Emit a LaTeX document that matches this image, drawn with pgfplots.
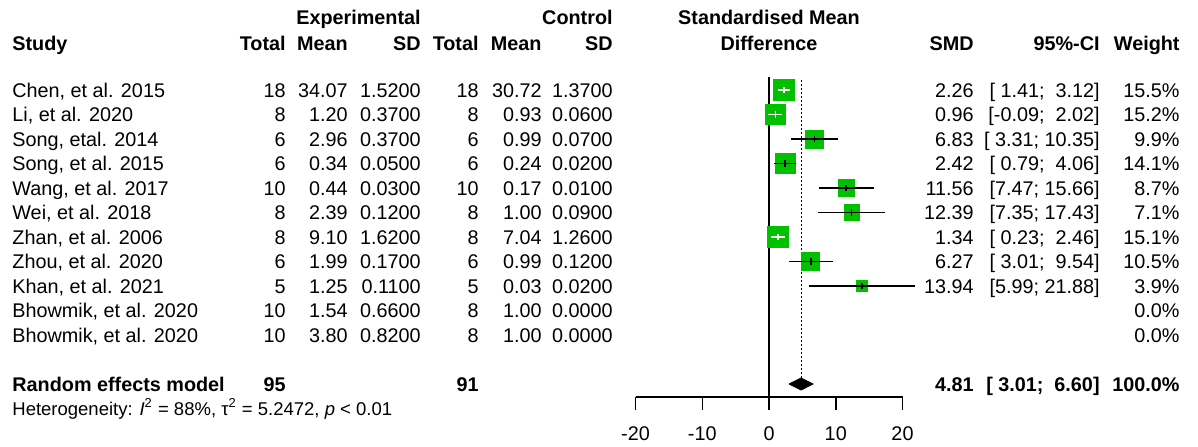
\documentclass[border=0pt]{standalone}
\usepackage{fontspec}
\setmainfont{Liberation Sans}
\usepackage{pgfplots}
\usepackage{pgfplotstable}
\pgfplotsset{compat=1.18}

\definecolor{sqgreen}{RGB}{0,192,0}

% studies whose CI runs past the square (black line)
\pgfplotstableread{
y     est   lo    hi    s
139   6.83  3.31  10.35 18
163.5 2.42  0.79  4.06  20.5
188   11.56 7.47  15.66 16.5
212.5 12.39 7.35  17.43 15.5
261.5 6.27  3.01  9.54  18
286   13.94 5.99  21.88 11
}\sqblack
% studies whose CI lies inside the square (white line)
\pgfplotstableread{
y     est   lo    hi    s
90    2.26  1.41  3.12  21
114.5 0.96  -0.09 2.02  20
237   1.34  0.23  2.46  21
}\sqwhite

% x positions of columns (axis units, 0 at the null line)
\def\cStudy{-113.41}
\def\cET{-72.36}\def\cEM{-63.07}\def\cESD{-52.13}
\def\cCT{-43.45}\def\cCM{-34.01}\def\cCSD{-23.37}
\def\cSMD{30.71}\def\cCI{49.59}\def\cW{61.57}

\tikzset{L/.style={anchor=base west, inner sep=0pt},
         R/.style={anchor=base east, inner sep=0pt},
         C/.style={anchor=base, inner sep=0pt}}

\newcommand{\lrow}[8]{%
  \node[L] at (axis cs:\cStudy,#1) {#2};
  \node[R] at (axis cs:\cET,#1) {#3};
  \node[R] at (axis cs:\cEM,#1) {#4};
  \node[R] at (axis cs:\cESD,#1) {#5};
  \node[R] at (axis cs:\cCT,#1) {#6};
  \node[R] at (axis cs:\cCM,#1) {#7};
  \node[R] at (axis cs:\cCSD,#1) {#8};
}
\newcommand{\rrow}[4]{%
  \node[R] at (axis cs:\cSMD,#1) {#2};
  \node[R] at (axis cs:\cCI,#1) {#3};
  \node[R] at (axis cs:\cW,#1) {#4};
}

\begin{document}
\begin{tikzpicture}[font=\fontsize{9.9}{12}\selectfont]
\begin{axis}[
  set layers,
  scale only axis, width=133.5pt, height=198.5pt,
  xmin=-20, xmax=20, ymin=0, ymax=397, y dir=reverse,
  clip=false,
  axis x line*=bottom, axis y line=none,
  x axis line style={-, line width=0.75pt},
  xtick={-20,-10,0,10,20},
  xticklabels={-20,-10,0,10,20},
  xtick align=outside, major tick length=6.5pt,
  xtick style={black, line width=0.75pt},
  xticklabel style={yshift=-5pt},
  ytick=\empty,
  sq/.style={scatter, only marks, mark=square*, point meta=explicit,
    scatter/use mapped color={draw=sqgreen, fill=sqgreen},
    visualization depends on={\thisrow{s}/4 \as \ms},
    scatter/@pre marker code/.append style={/tikz/mark size=\ms}},
  % CI line plus a short tick at the estimate, both as error bars
  ci/.style={on layer=axis foreground, draw=none, mark=none,
    error bars/.cd, x dir=both, x explicit, y dir=both, y fixed=3.4,
    error mark=none},
]
% null line and pooled estimate
\addplot[black, line width=0.75pt] coordinates {(0,77) (0,397)};
\addplot[black, line width=0.5pt, dash pattern=on 1pt off 1pt] coordinates {(4.81,80) (4.81,378)};

\addplot[sq] table[x=est, y=y, meta=s] {\sqblack};
\addplot[sq] table[x=est, y=y, meta=s] {\sqwhite};

\addplot[error bars/error bar style={draw=black, line width=0.75pt}, ci]
  table[x=est, y=y,
  x error plus expr=\thisrow{hi}-\thisrow{est},
  x error minus expr=\thisrow{est}-\thisrow{lo}] {\sqblack};
\addplot[error bars/error bar style={draw=white, line width=0.75pt}, ci]
  table[x=est, y=y,
  x error plus expr=\thisrow{hi}-\thisrow{est},
  x error minus expr=\thisrow{est}-\thisrow{lo}] {\sqwhite};

% random effects diamond
\addplot[black, fill=black] coordinates {(3.01,384) (4.81,378) (6.60,384) (4.81,390) (3.01,384)};

% headers
\begin{scope}[font=\fontsize{9.9}{12}\selectfont\bfseries]
\node[R] at (axis cs:\cESD,25) {Experimental};
\node[R] at (axis cs:\cCSD,25) {Control};
\node[C] at (axis cs:0,25) {Standardised Mean};
\node[C] at (axis cs:0,50) {Difference};
\lrow{50}{Study}{Total}{Mean}{SD}{Total}{Mean}{SD}
\rrow{50}{SMD}{95\%-CI}{Weight}
\end{scope}

% study rows
\lrow{97}{Chen, et al. 2015}{18}{34.07}{1.5200}{18}{30.72}{1.3700}
\rrow{97}{2.26}{[\ 1.41;\ \ 3.12]}{15.5\%}
\lrow{121.5}{Li, et al. 2020}{8}{1.20}{0.3700}{8}{0.93}{0.0600}
\rrow{121.5}{0.96}{[-0.09;\ \ 2.02]}{15.2\%}
\lrow{146}{Song, etal. 2014}{6}{2.96}{0.3700}{6}{0.99}{0.0700}
\rrow{146}{6.83}{[\ 3.31; 10.35]}{9.9\%}
\lrow{170.5}{Song, et al. 2015}{6}{0.34}{0.0500}{6}{0.24}{0.0200}
\rrow{170.5}{2.42}{[\ 0.79;\ \ 4.06]}{14.1\%}
\lrow{195}{Wang, et al. 2017}{10}{0.44}{0.0300}{10}{0.17}{0.0100}
\rrow{195}{11.56}{[7.47; 15.66]}{8.7\%}
\lrow{219.5}{Wei, et al. 2018}{8}{2.39}{0.1200}{8}{1.00}{0.0900}
\rrow{219.5}{12.39}{[7.35; 17.43]}{7.1\%}
\lrow{244}{Zhan, et al. 2006}{8}{9.10}{1.6200}{8}{7.04}{1.2600}
\rrow{244}{1.34}{[\ 0.23;\ \ 2.46]}{15.1\%}
\lrow{268.5}{Zhou, et al. 2020}{6}{1.99}{0.1700}{6}{0.99}{0.1200}
\rrow{268.5}{6.27}{[\ 3.01;\ \ 9.54]}{10.5\%}
\lrow{293}{Khan, et al. 2021}{5}{1.25}{0.1100}{5}{0.03}{0.0200}
\rrow{293}{13.94}{[5.99; 21.88]}{3.9\%}
\lrow{317.5}{Bhowmik, et al. 2020}{10}{1.54}{0.6600}{8}{1.00}{0.0000}
\node[R] at (axis cs:\cW,317.5) {0.0\%};
\lrow{342}{Bhowmik, et al. 2020}{10}{3.80}{0.8200}{8}{1.00}{0.0000}
\node[R] at (axis cs:\cW,342) {0.0\%};

% pooled row
\begin{scope}[font=\fontsize{9.9}{12}\selectfont\bfseries]
\node[L] at (axis cs:\cStudy,391) {Random effects model};
\node[R] at (axis cs:\cET,391) {95};
\node[R] at (axis cs:\cCT,391) {91};
\rrow{391}{4.81}{[\ 3.01;\ \ 6.60]}{100.0\%}
\end{scope}
\node[L, font=\fontsize{9.25}{11}\selectfont] at (axis cs:\cStudy,415)
  {Heterogeneity: \textit{I}\textsuperscript{2} = 88\%, τ\textsuperscript{2} = 5.2472, \textit{p} < 0.01};

\coordinate (tl) at (axis cs:-115.21,0);
\coordinate (br) at (axis cs:64.27,446);
\end{axis}
\pgfresetboundingbox
\path[use as bounding box] (tl) rectangle (br);
\end{tikzpicture}
\end{document}
